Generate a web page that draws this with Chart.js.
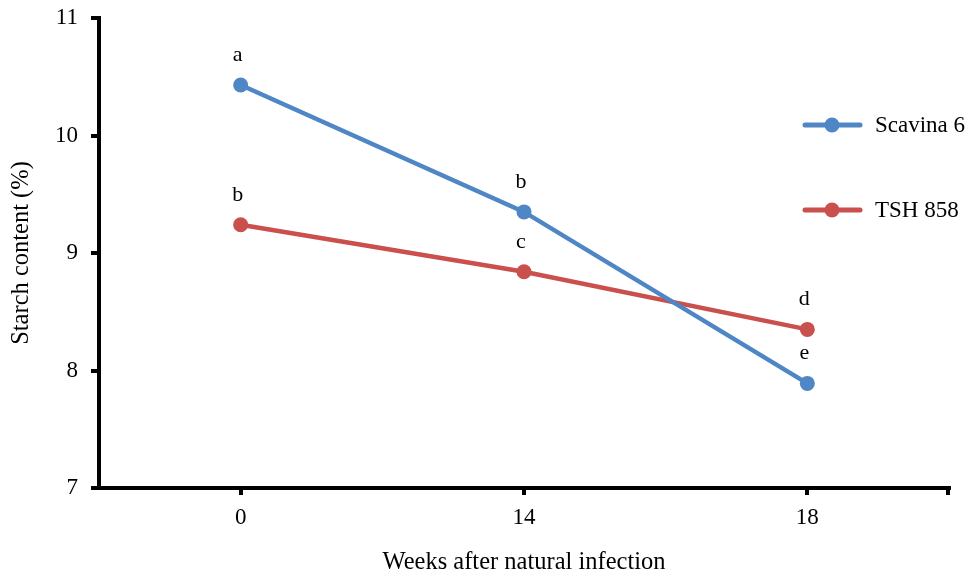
<!DOCTYPE html>
<html>
<head>
<meta charset="utf-8">
<script src="https://cdn.jsdelivr.net/npm/chart.js@4"></script>
<style>
  html, body { margin: 0; padding: 0; background: #fff; }
  #box { width: 973px; height: 577px; }
</style>
</head>
<body>
<div id="box"><canvas id="grafico" width="973" height="577"></canvas></div>
<script>
// datos
const semanas = ["0", "14", "18"];
const scavina6 = [10.43, 9.35, 7.89];
const tsh858 = [9.24, 8.84, 8.35];
const letrasScavina = ["a", "b", "e"];
const letrasTsh = ["b", "c", "d"];
const ticksY = [7, 8, 9, 10, 11];

const azul = "#4f86c6";
const rojo = "#c9504d";
const fuente = "'Liberation Serif', 'Times New Roman', serif";

// letras de significancia encima de cada punto + leyenda a la derecha
const extras = {
  id: "extras",
  afterDatasetsDraw(chart) {
    const ctx = chart.ctx;
    ctx.save();
    ctx.font = "22px " + fuente;
    ctx.fillStyle = "#000";
    ctx.textAlign = "center";
    ctx.textBaseline = "alphabetic";
    const listas = [letrasScavina, letrasTsh];
    listas.forEach((letras, d) => {
      chart.getDatasetMeta(d).data.forEach((p, i) => {
        ctx.fillText(letras[i], p.x - 3, p.y - 24);
      });
    });

    // tick final del eje x
    const x = chart.scales.x;
    ctx.fillStyle = "#000";
    ctx.fillRect(x.right - 3, x.top, 4, 7);

    // leyenda
    const items = [["Scavina 6", azul, 125], ["TSH 858", rojo, 210]];
    items.forEach(([txt, col, y]) => {
      ctx.strokeStyle = col;
      ctx.lineWidth = 5;
      ctx.lineCap = "round";
      ctx.beginPath();
      ctx.moveTo(805, y);
      ctx.lineTo(860, y);
      ctx.stroke();
      ctx.fillStyle = col;
      ctx.beginPath();
      ctx.arc(832, y, 7.5, 0, Math.PI * 2);
      ctx.fill();
      ctx.fillStyle = "#000";
      ctx.textAlign = "left";
      ctx.textBaseline = "middle";
      ctx.font = "23px " + fuente;
      ctx.fillText(txt, 875, y + 1);
    });
    ctx.restore();
  }
};

new Chart(document.getElementById("grafico"), {
  type: "line",
  data: {
    labels: semanas,
    datasets: [
      {
        label: "Scavina 6",
        data: scavina6,
        borderColor: azul,
        backgroundColor: azul,
        borderWidth: 4.5,
        pointRadius: 7.5,
        pointBorderWidth: 0,
        tension: 0,
      },
      {
        label: "TSH 858",
        data: tsh858,
        borderColor: rojo,
        backgroundColor: rojo,
        borderWidth: 4.5,
        pointRadius: 7.5,
        pointBorderWidth: 0,
        tension: 0,
      },
    ],
  },
  options: {
    responsive: false,
    animation: false,
    layout: { padding: { top: 18, right: 24, left: 0, bottom: 0 } },
    plugins: {
      legend: { display: false },
      tooltip: { enabled: false },
    },
    scales: {
      x: {
        offset: true,
        grid: {
          display: true,
          drawOnChartArea: false,
          offset: false,
          color: "#000",
          lineWidth: 4,
          tickLength: 7,
        },
        border: { display: true, color: "#000", width: 4 },
        ticks: {
          color: "#000",
          padding: 9,
          font: { family: fuente, size: 23 },
        },
        title: {
          display: true,
          text: "Weeks after natural infection",
          color: "#000",
          font: { family: fuente, size: 24.5 },
          padding: { top: 0, bottom: 0 },
        },
        afterFit(s) { s.height = 577 - 488; },
      },
      y: {
        min: 7,
        max: 11,
        afterBuildTicks(s) { s.ticks = ticksY.map(v => ({ value: v })); },
        grid: {
          display: true,
          drawOnChartArea: false,
          color: "#000",
          lineWidth: 4,
          tickLength: 8,
        },
        border: { display: true, color: "#000", width: 4 },
        ticks: {
          color: "#000",
          padding: 13,
          font: { family: fuente, size: 23 },
        },
        title: {
          display: true,
          text: "Starch content (%)",
          color: "#000",
          font: { family: fuente, size: 24.5 },
          padding: { top: 7, bottom: 0 },
        },
        afterFit(s) {
          s.width = 99;
          s.paddingTop = 0;
          s.paddingBottom = 0;
        },
      },
    },
  },
  plugins: [extras],
});
</script>
</body>
</html>
